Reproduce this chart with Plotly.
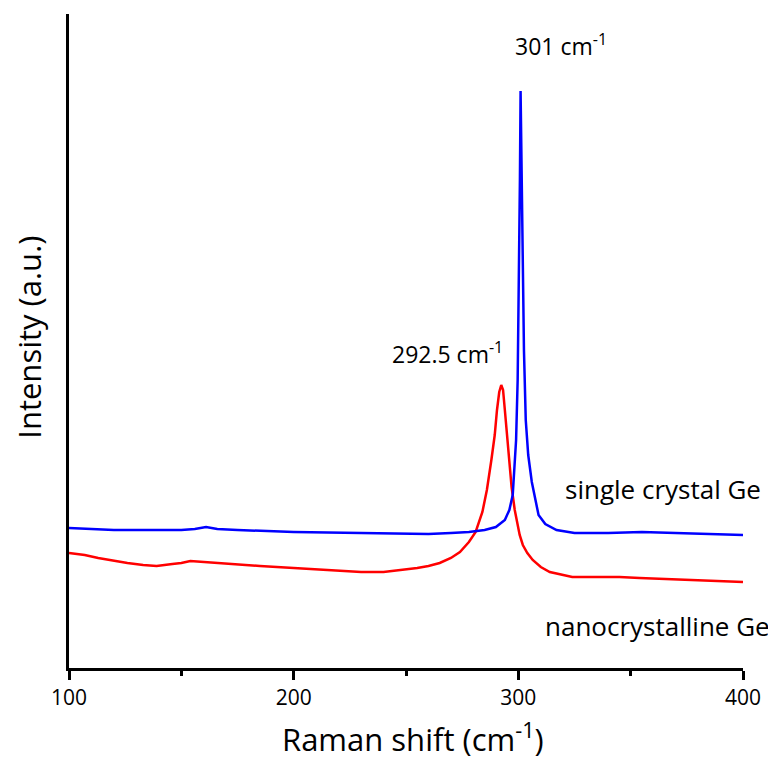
import plotly.graph_objects as go

# Raman shift (cm^-1) and intensity (a.u.)
single_x = [100, 110, 120, 140, 150, 156, 161, 166, 175, 200, 225, 245, 260, 270, 278, 285,
            290, 294, 296, 297.5, 298.3, 299, 299.7, 300.3, 300.7, 301, 301.4, 301.9, 302.5,
            303.3, 304.4, 306, 307.5, 309, 312, 317, 325, 340, 355, 370, 385, 400]
single_y = [140, 139, 138, 138, 138, 139, 141, 139, 138, 136, 135, 134, 134, 135, 136, 138,
            141, 148, 158, 173, 198, 228, 288, 388, 488, 577, 498, 408, 318,
            248, 213, 186, 168, 153, 144, 138, 135, 135, 136, 135, 134, 133]

nano_x = [100, 107, 113, 120, 126, 133, 139, 146, 150, 154, 160, 170, 185, 200, 215, 230,
          240, 248, 255, 260, 265, 270, 274, 278, 281, 284, 286, 288, 289.5, 290.5, 291.5,
          292.4, 293.2, 294, 295, 295.8, 297, 298.4, 300.6, 302, 304, 306.4, 310, 314, 320,
          324, 335, 345, 354, 365, 380, 390, 400]
nano_y = [115, 113, 110, 107, 105, 103, 102, 104, 105, 107, 106, 104, 102, 100, 98, 96,
          96, 98, 100, 102, 105, 110, 116, 126, 136, 156, 178, 208, 233, 258, 276,
          283, 278, 258, 233, 208, 181, 158, 133, 123, 115, 108, 101, 96, 93,
          91, 91, 91, 90, 89, 88, 87, 86]

x_ticks = [100, 200, 300, 400]
x_minor = [150, 250, 350]

FONT = "Open Sans"

fig = go.Figure()
fig.add_trace(go.Scatter(x=nano_x, y=nano_y, mode="lines",
                         line=dict(color="#ff0000", width=2.5), name="nanocrystalline Ge"))
fig.add_trace(go.Scatter(x=single_x, y=single_y, mode="lines",
                         line=dict(color="#0000ff", width=2.5), name="single crystal Ge"))

peak_font = dict(family=FONT, size=23, color="black")
label_font = dict(family=FONT, size=26, color="black")
fig.add_annotation(x=297.5, y=604, xref="x", yref="y", text="301 cm<sup>-1</sup>",
                   showarrow=False, xanchor="left", yanchor="bottom", font=peak_font)
fig.add_annotation(x=242.7, y=296, xref="x", yref="y", text="292.5 cm<sup>-1</sup>",
                   showarrow=False, xanchor="left", yanchor="bottom", font=peak_font)
fig.add_annotation(x=1.0297, y=179, xref="paper", yref="y", text="single crystal Ge",
                   showarrow=False, xanchor="right", yanchor="middle", font=label_font)
fig.add_annotation(x=1.043, y=42, xref="paper", yref="y", text="nanocrystalline Ge",
                   showarrow=False, xanchor="right", yanchor="middle", font=label_font)

# axis titles
fig.add_annotation(x=-0.0593, y=0.505, xref="paper", yref="paper", text="Intensity (a.u.)",
                   textangle=-90, showarrow=False, xanchor="center", yanchor="middle",
                   font=dict(family=FONT, size=31, color="black"))
fig.add_annotation(x=0.51, y=-0.107, xref="paper", yref="paper", text="Raman shift (cm<sup>-1</sup>)",
                   showarrow=False, xanchor="center", yanchor="middle",
                   font=dict(family=FONT, size=31, color="black"))

fig.update_layout(
    width=768, height=753,
    margin=dict(l=61, r=33, t=6, b=93),
    paper_bgcolor="white", plot_bgcolor="white",
    showlegend=False,
    font=dict(family=FONT, color="black"),
)
fig.update_xaxes(
    range=[100, 400], tickvals=x_ticks, ticktext=[str(v) for v in x_ticks],
    showline=True, linecolor="black", linewidth=2.5, mirror=False,
    ticks="outside", ticklen=9, tickwidth=2.5, tickcolor="black",
    minor=dict(tickvals=x_minor, ticks="outside", ticklen=5, tickwidth=2.5, tickcolor="black"),
    showgrid=False, zeroline=False,
    tickfont=dict(family=FONT, size=21, color="black"),
)
fig.update_yaxes(
    range=[0, 654], showline=True, linecolor="black", linewidth=2.5,
    showticklabels=False, ticks="", showgrid=False, zeroline=False,
)

fig.write_html("out.html")
